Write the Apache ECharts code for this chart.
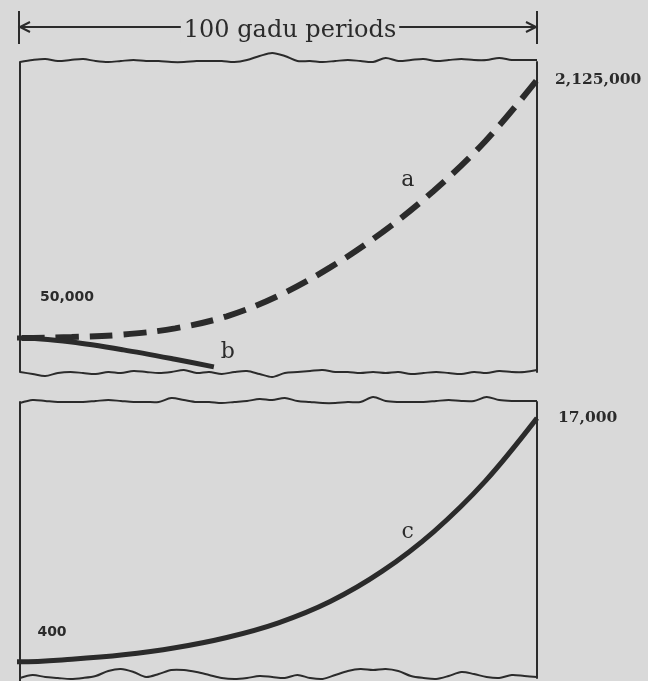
<!DOCTYPE html>
<html>
<head>
<meta charset="utf-8">
<script src="https://cdn.jsdelivr.net/npm/echarts@6/dist/echarts.min.js"></script>
<style>
  html, body { margin: 0; background: #d9d9d9; }
  #main { width: 648px; height: 681px; }
</style>
</head>
<body>
<div id="main"></div>
<script>
// periods (x) and population (y)
const periods = [-2, 0, 10, 20, 30, 40, 50, 60, 70, 80, 90, 100];
const popA = [50000, 50000, 58000, 78000, 128000, 225000, 390000, 618000, 898000, 1233000, 1633000, 2125000];
const periodsB = [-2, 0, 10, 20, 30, 37.5];
const popB = [50000, 50000, 44000, 32500, 18700, 7600];
const popC = [400, 400, 580, 880, 1360, 2060, 3060, 4510, 6560, 9260, 12710, 17000];
const curveNames = ['a', 'b', 'c'];
const spanLabel = '100 gadu periods';

const ink = '#2b2b2b';
const fmt = v => v.toLocaleString('en-US');
const pairs = (xs, ys) => xs.map((x, i) => [x, ys[i]]);

// wavy cut edges of the two panels (decoration only)
function wavy(x0, x1, y, offs) {
  const step = (x1 - x0) / (offs.length - 1);
  return offs.map((o, i) => [x0 + i * step, y + o]);
}
const edgeTop1 = wavy(20, 537, 62, [0,-2,-3,-1,-2,-3,-1,0,-1,-2,-1,-1,0,0,-1,-1,-1,0,-2,-6,-9,-6,-1,-1,0,-1,-2,-1,0,-4,-1,-2,-3,-1,-2,-3,-2,-2,-4,-2,-2,-2]);
const edgeBot1 = wavy(20, 537, 372, [0,2,4,1,0,1,2,0,1,-1,0,1,0,-2,1,0,2,0,-1,2,5,1,0,-1,-2,0,0,1,0,1,0,2,1,0,1,2,0,1,-1,0,0,-2]);
const edgeTop2 = wavy(20, 537, 403, [0,-3,-2,-1,-1,-1,-2,-3,-2,-1,-1,-1,-5,-3,-1,-1,0,-1,-2,-4,-3,-5,-2,-1,0,0,-1,-1,-6,-2,-1,-1,-1,-2,-3,-2,-2,-6,-3,-2,-2,-2]);
const edgeBot2 = wavy(20, 537, 678, [0,-3,-1,0,1,0,-2,-7,-9,-6,-1,-4,-8,-8,-6,-3,0,1,0,-2,-1,0,-3,0,1,-3,-7,-9,-8,-9,-7,-2,0,1,-2,-6,-4,-1,0,-3,-2,-1]);

const chart = echarts.init(document.getElementById('main'));

const axisLine = { show: true, onZero: false, lineStyle: { color: ink, width: 2 } };
const hidden = { axisTick: { show: false }, axisLabel: { show: false }, splitLine: { show: false } };

const letter = { fontFamily: 'DejaVu Serif', fontSize: 22, color: ink };
const numSans = { fontFamily: 'DejaVu Sans', fontWeight: 'bold', fontSize: 14, color: ink };
const numSerif = { fontFamily: 'DejaVu Serif', fontWeight: 'bold', fontSize: 15.5, color: ink };

chart.setOption({
  backgroundColor: '#d9d9d9',
  animation: false,
  grid: [
    { left: 20, right: 111, top: 62, height: 310 },
    { left: 20, right: 111, top: 402, height: 276 }
  ],
  xAxis: [
    { type: 'value', gridIndex: 0, min: 0, max: 100, show: false },
    { type: 'value', gridIndex: 1, min: 0, max: 100, show: false }
  ],
  yAxis: [
    Object.assign({ type: 'value', gridIndex: 0, min: -223000, max: 2270000, axisLine }, hidden),
    Object.assign({ type: 'value', gridIndex: 0, position: 'right', min: 0, max: 455900, axisLine }, hidden),
    Object.assign({ type: 'value', gridIndex: 1, min: -700, max: 18100, axisLine }, hidden),
    Object.assign({ type: 'value', gridIndex: 1, position: 'right', min: -700, max: 18100, axisLine }, hidden)
  ],
  series: [
    {
      name: curveNames[0], type: 'line', xAxisIndex: 0, yAxisIndex: 0,
      data: pairs(periods, popA), smooth: 0.35, showSymbol: false, clip: false,
      lineStyle: { color: ink, width: 6, type: [23, 11], dashOffset: 22, cap: 'butt' },
      endLabel: Object.assign({ show: true, formatter: fmt(popA[popA.length - 1]), distance: 18 }, numSerif),
      markPoint: {
        symbol: 'circle', symbolSize: 0,
        data: [
          { coord: [0, popA[1]], label: Object.assign({ formatter: fmt(popA[1]), offset: [47, -41] }, numSans) },
          { coord: [75, 1320000], label: Object.assign({ formatter: curveNames[0] }, letter) }
        ]
      }
    },
    {
      name: curveNames[1], type: 'line', xAxisIndex: 0, yAxisIndex: 1,
      data: pairs(periodsB, popB), smooth: 0.3, showSymbol: false, clip: false,
      lineStyle: { color: ink, width: 5 },
      markPoint: {
        symbol: 'circle', symbolSize: 0,
        data: [{ coord: [40.2, 29400], label: Object.assign({ formatter: curveNames[1] }, letter) }]
      }
    },
    {
      name: curveNames[2], type: 'line', xAxisIndex: 1, yAxisIndex: 2,
      data: pairs(periods, popC), smooth: 0.35, showSymbol: false, clip: false,
      lineStyle: { color: ink, width: 5 },
      endLabel: Object.assign({ show: true, formatter: fmt(popC[popC.length - 1]), distance: 21 }, numSerif),
      markPoint: {
        symbol: 'circle', symbolSize: 0,
        data: [
          { coord: [0, popC[1]], label: Object.assign({ formatter: fmt(popC[1]), offset: [32, -29] }, numSans) },
          { coord: [75, 9250], label: Object.assign({ formatter: curveNames[2] }, letter) }
        ]
      }
    }
  ],
  graphic: [
    // span bracket above the top panel
    { type: 'line', shape: { x1: 19, y1: 27, x2: 537, y2: 27 }, style: { stroke: ink, lineWidth: 2 } },
    { type: 'line', shape: { x1: 19, y1: 11, x2: 19, y2: 44 }, style: { stroke: ink, lineWidth: 2 } },
    { type: 'line', shape: { x1: 537, y1: 11, x2: 537, y2: 44 }, style: { stroke: ink, lineWidth: 2 } },
    { type: 'polyline', shape: { points: [[30, 22], [20, 27], [30, 32]] }, style: { stroke: ink, lineWidth: 2, fill: null } },
    { type: 'polyline', shape: { points: [[526, 22], [536, 27], [526, 32]] }, style: { stroke: ink, lineWidth: 2, fill: null } },
    {
      type: 'text', x: 290, y: 31,
      style: {
        text: spanLabel, fontFamily: 'DejaVu Serif', fontSize: 24, fill: ink,
        align: 'center', verticalAlign: 'middle', backgroundColor: '#d9d9d9', padding: [0, 3]
      }
    },
    // cut edges of the panels
    { type: 'polyline', shape: { points: edgeTop1, smooth: 0.3 }, style: { stroke: ink, lineWidth: 2, fill: null } },
    { type: 'polyline', shape: { points: edgeBot1, smooth: 0.3 }, style: { stroke: ink, lineWidth: 2, fill: null } },
    { type: 'polyline', shape: { points: edgeTop2, smooth: 0.3 }, style: { stroke: ink, lineWidth: 2, fill: null } },
    { type: 'polyline', shape: { points: edgeBot2, smooth: 0.3 }, style: { stroke: ink, lineWidth: 2, fill: null } },
    { type: 'line', shape: { x1: 20, y1: 676, x2: 20, y2: 681 }, style: { stroke: ink, lineWidth: 2 } }
  ]
});
</script>
</body>
</html>
